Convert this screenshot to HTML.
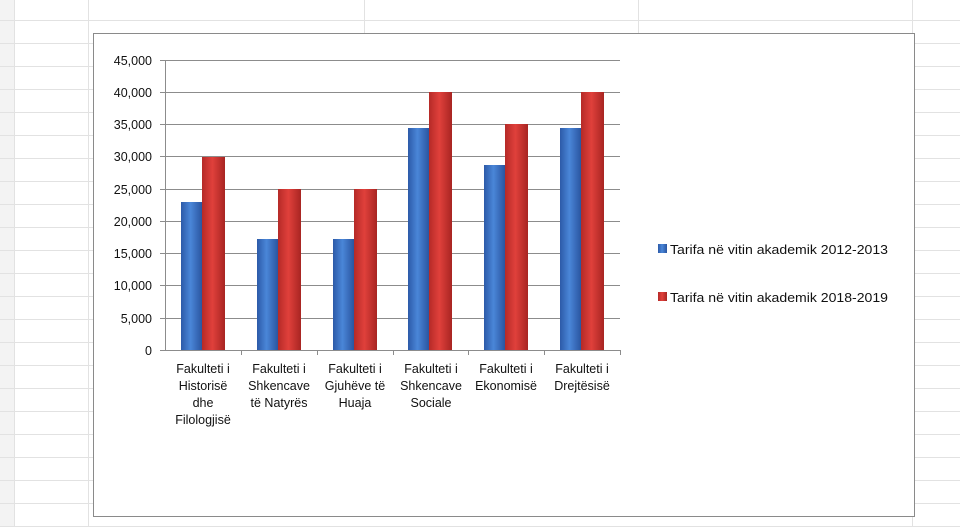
<!DOCTYPE html>
<html><head><meta charset="utf-8"><style>
html,body{margin:0;padding:0;background:#fff;width:960px;height:527px;overflow:hidden}
</style></head><body>
<svg width="960" height="527" xmlns="http://www.w3.org/2000/svg" font-family="Liberation Sans, sans-serif">
<defs>
<linearGradient id="b" x1="0" x2="1" y1="0" y2="0">
<stop offset="0" stop-color="#2c5aa8"/><stop offset="0.45" stop-color="#4a86d8"/><stop offset="1" stop-color="#2a55a0"/></linearGradient>
<linearGradient id="r" x1="0" x2="1" y1="0" y2="0">
<stop offset="0" stop-color="#b52a27"/><stop offset="0.45" stop-color="#e0403b"/><stop offset="1" stop-color="#a82522"/></linearGradient>
</defs>
<rect width="960" height="527" fill="#fff"/>
<rect x="0" y="0" width="14" height="527" fill="#f3f3f3"/>
<g stroke="#e2e2e2" stroke-width="1">
<line x1="14.5" y1="0" x2="14.5" y2="527"/>
<line x1="88.5" y1="0" x2="88.5" y2="527"/>
<line x1="364.5" y1="0" x2="364.5" y2="33"/>
<line x1="638.5" y1="0" x2="638.5" y2="33"/>
<line x1="912.5" y1="0" x2="912.5" y2="527"/>
<g id="h">
<line x1="0" y1="20.5" x2="960" y2="20.5"/><line x1="0" y1="43.5" x2="93" y2="43.5"/><line x1="0" y1="66.5" x2="93" y2="66.5"/>
<line x1="0" y1="89.5" x2="93" y2="89.5"/><line x1="0" y1="112.5" x2="93" y2="112.5"/><line x1="0" y1="135.5" x2="93" y2="135.5"/>
<line x1="0" y1="158.5" x2="93" y2="158.5"/><line x1="0" y1="181.5" x2="93" y2="181.5"/><line x1="0" y1="204.5" x2="93" y2="204.5"/>
<line x1="0" y1="227.5" x2="93" y2="227.5"/><line x1="0" y1="250.5" x2="93" y2="250.5"/><line x1="0" y1="273.5" x2="93" y2="273.5"/>
<line x1="0" y1="296.5" x2="93" y2="296.5"/><line x1="0" y1="319.5" x2="93" y2="319.5"/><line x1="0" y1="342.5" x2="93" y2="342.5"/>
<line x1="0" y1="365.5" x2="93" y2="365.5"/><line x1="0" y1="388.5" x2="93" y2="388.5"/><line x1="0" y1="411.5" x2="93" y2="411.5"/>
<line x1="0" y1="434.5" x2="93" y2="434.5"/><line x1="0" y1="457.5" x2="93" y2="457.5"/><line x1="0" y1="480.5" x2="93" y2="480.5"/>
<line x1="0" y1="503.5" x2="93" y2="503.5"/><line x1="0" y1="526.5" x2="960" y2="526.5"/>
</g>
<g>
<line x1="915" y1="43.5" x2="960" y2="43.5"/><line x1="915" y1="66.5" x2="960" y2="66.5"/><line x1="915" y1="89.5" x2="960" y2="89.5"/>
<line x1="915" y1="112.5" x2="960" y2="112.5"/><line x1="915" y1="135.5" x2="960" y2="135.5"/><line x1="915" y1="158.5" x2="960" y2="158.5"/>
<line x1="915" y1="181.5" x2="960" y2="181.5"/><line x1="915" y1="204.5" x2="960" y2="204.5"/><line x1="915" y1="227.5" x2="960" y2="227.5"/>
<line x1="915" y1="250.5" x2="960" y2="250.5"/><line x1="915" y1="273.5" x2="960" y2="273.5"/><line x1="915" y1="296.5" x2="960" y2="296.5"/>
<line x1="915" y1="319.5" x2="960" y2="319.5"/><line x1="915" y1="342.5" x2="960" y2="342.5"/><line x1="915" y1="365.5" x2="960" y2="365.5"/>
<line x1="915" y1="388.5" x2="960" y2="388.5"/><line x1="915" y1="411.5" x2="960" y2="411.5"/><line x1="915" y1="434.5" x2="960" y2="434.5"/>
<line x1="915" y1="457.5" x2="960" y2="457.5"/><line x1="915" y1="480.5" x2="960" y2="480.5"/><line x1="915" y1="503.5" x2="960" y2="503.5"/>
</g>
</g>
<rect x="93.5" y="33.5" width="821" height="483" fill="#fff" stroke="#8a8a8a" stroke-width="1"/>
<g stroke="#8c8c8c" stroke-width="1">
<line x1="160" y1="60.5" x2="620" y2="60.5"/><line x1="160" y1="92.5" x2="620" y2="92.5"/>
<line x1="160" y1="124.5" x2="620" y2="124.5"/><line x1="160" y1="156.5" x2="620" y2="156.5"/>
<line x1="160" y1="189.5" x2="620" y2="189.5"/><line x1="160" y1="221.5" x2="620" y2="221.5"/>
<line x1="160" y1="253.5" x2="620" y2="253.5"/><line x1="160" y1="285.5" x2="620" y2="285.5"/>
<line x1="160" y1="318.5" x2="620" y2="318.5"/><line x1="160" y1="350.5" x2="620" y2="350.5"/>
<line x1="165.5" y1="60" x2="165.5" y2="350"/>
<line x1="241.5" y1="350" x2="241.5" y2="355"/><line x1="317.5" y1="350" x2="317.5" y2="355"/>
<line x1="393.5" y1="350" x2="393.5" y2="355"/><line x1="468.5" y1="350" x2="468.5" y2="355"/>
<line x1="544.5" y1="350" x2="544.5" y2="355"/><line x1="620.5" y1="350" x2="620.5" y2="355"/>
</g>
<g font-size="12.5" fill="#111" text-anchor="end">
<text x="152" y="65">45,000</text><text x="152" y="97">40,000</text><text x="152" y="129">35,000</text>
<text x="152" y="161">30,000</text><text x="152" y="194">25,000</text><text x="152" y="226">20,000</text>
<text x="152" y="258">15,000</text><text x="152" y="290">10,000</text><text x="152" y="323">5,000</text>
<text x="152" y="355">0</text>
</g>
<g>
<rect x="181" y="202" width="21" height="148" fill="url(#b)"/><rect x="202" y="157" width="23" height="193" fill="url(#r)"/>
<rect x="257" y="239" width="21" height="111" fill="url(#b)"/><rect x="278" y="189" width="23" height="161" fill="url(#r)"/>
<rect x="333" y="239" width="21" height="111" fill="url(#b)"/><rect x="354" y="189" width="23" height="161" fill="url(#r)"/>
<rect x="408" y="128" width="21" height="222" fill="url(#b)"/><rect x="429" y="92" width="23" height="258" fill="url(#r)"/>
<rect x="484" y="165" width="21" height="185" fill="url(#b)"/><rect x="505" y="124" width="23" height="226" fill="url(#r)"/>
<rect x="560" y="128" width="21" height="222" fill="url(#b)"/><rect x="581" y="92" width="23" height="258" fill="url(#r)"/>
</g>
<g font-size="12.5" fill="#111" text-anchor="middle">
<text x="203" y="373">Fakulteti i</text><text x="203" y="390">Historisë</text><text x="203" y="407">dhe</text><text x="203" y="424">Filologjisë</text>
<text x="279" y="373">Fakulteti i</text><text x="279" y="390">Shkencave</text><text x="279" y="407">të Natyrës</text>
<text x="355" y="373">Fakulteti i</text><text x="355" y="390">Gjuhëve të</text><text x="355" y="407">Huaja</text>
<text x="431" y="373">Fakulteti i</text><text x="431" y="390">Shkencave</text><text x="431" y="407">Sociale</text>
<text x="506" y="373">Fakulteti i</text><text x="506" y="390">Ekonomisë</text>
<text x="582" y="373">Fakulteti i</text><text x="582" y="390">Drejtësisë</text>
</g>
<rect x="658" y="244" width="9" height="9" fill="url(#b)"/>
<rect x="658" y="292" width="9" height="9" fill="url(#r)"/>
<g font-size="12.5" fill="#111">
<text x="670" y="254" textLength="218" lengthAdjust="spacingAndGlyphs">Tarifa në vitin akademik 2012-2013</text>
<text x="670" y="302" textLength="218" lengthAdjust="spacingAndGlyphs">Tarifa në vitin akademik 2018-2019</text>
</g>
</svg>
</body></html>
